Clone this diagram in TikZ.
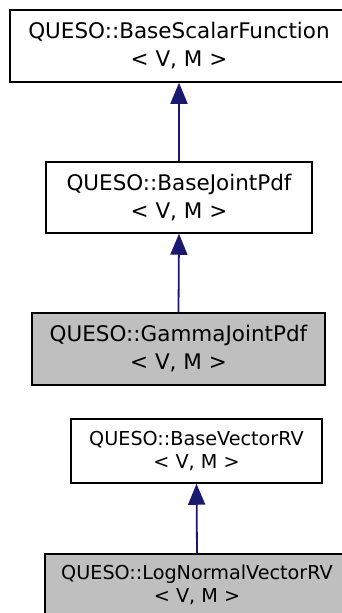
\documentclass[tikz,border=0pt]{standalone}
\usepackage{fontspec}
\setmainfont{DejaVu Sans}
\usetikzlibrary{arrows.meta}
\definecolor{edgeblue}{HTML}{191970}
\definecolor{leafgray}{HTML}{BFBFBF}

\begin{document}
\begin{tikzpicture}[x=1pt,y=-1pt,>={Triangle[width=17pt,length=21pt]},
                    line width=1.8pt]
  \tikzstyle{cls}=[draw=black,fill=white,align=center,inner sep=0pt,line width=1.5pt]
  \tikzstyle{leaf}=[cls,fill=leafgray]
  \tikzstyle{big}=[font=\fontsize{21.5}{28}\selectfont]
  \tikzstyle{small}=[font=\fontsize{19.2}{22.5}\selectfont]
  \tikzstyle{inherit}=[<-,draw=edgeblue,fill=edgeblue]

  \useasboundingbox (0,0) rectangle (341,613);

  \node[cls,big,minimum width=338pt,minimum height=72pt]  (scalar) at (179,46)    {QUESO::BaseScalarFunction\\< V, M >};
  \node[cls,big,minimum width=266pt,minimum height=71pt]  (joint)  at (179,197.5) {QUESO::BaseJointPdf\\< V, M >};
  \node[leaf,big,minimum width=293pt,minimum height=72pt] (gamma)  at (178.5,349) {QUESO::GammaJointPdf\\< V, M >};
  \node[cls,small,minimum width=251pt,minimum height=64pt] (vecrv) at (196.5,451) {QUESO::BaseVectorRV\\< V, M >};
  \node[leaf,small,minimum width=304pt,minimum height=62pt] (lognormal) at (197,585) {QUESO::LogNormalVectorRV\\< V, M >};

  \draw[inherit] (scalar.south) -- (joint.north);
  \draw[inherit] (joint.south)  -- (gamma.north);
  \draw[inherit] (vecrv.south)  -- (lognormal.north);
\end{tikzpicture}
\end{document}
